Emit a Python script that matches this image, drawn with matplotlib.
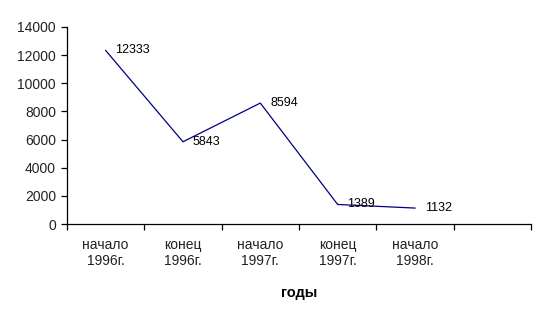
import numpy as np
import matplotlib.pyplot as plt

plt.rcParams['font.family'] = ['Liberation Sans', 'DejaVu Sans']

categories = ['начало\n1996г.', 'конец\n1996г.', 'начало\n1997г.',
              'конец\n1997г.', 'начало\n1998г.']
values = [12333, 5843, 8594, 1389, 1132]
n_slots = 6

fig = plt.figure(figsize=(5.46, 3.19), dpi=100)
ax = fig.add_axes([0.1227, 0.2978, 0.8498, 0.6176])

x = np.arange(len(values))
ax.plot(x, values, color='#000080', linewidth=0.9)

for xi, v in zip(x, values):
    ax.annotate(str(v), (xi, v), xytext=(7, 0), textcoords='offset points',
                va='center', ha='left', fontsize=9, color='black')

ax.set_xlim(-0.5, n_slots - 0.5)
ax.set_ylim(0, 14000)
ax.set_yticks(np.arange(0, 14001, 2000))
ax.set_xticks(np.arange(-0.5, n_slots, 1.0))
ax.set_xticklabels([])
ax.set_xticks(x, minor=True)
ax.set_xticklabels(categories, minor=True, fontsize=10, color='#222222')
ax.tick_params(axis='x', which='minor', length=0, pad=10)
ax.tick_params(axis='x', which='major', length=4, direction='out', width=0.9)
ax.tick_params(axis='y', length=4, direction='out', width=0.9, labelsize=10,
               labelcolor='#222222', pad=4)

for s in ['top', 'right']:
    ax.spines[s].set_visible(False)
for s in ['left', 'bottom']:
    ax.spines[s].set_linewidth(0.9)

ax.set_xlabel('годы', fontsize=10.5, fontweight='bold', labelpad=13)

fig.savefig('out.png', dpi=100)
